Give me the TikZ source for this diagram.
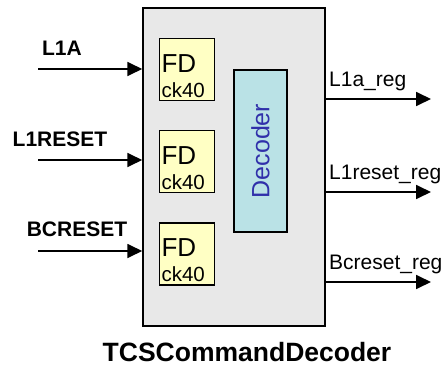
\documentclass[tikz,border=0pt]{standalone}
\usepackage{fontspec}
\setmainfont{Liberation Sans}
\usetikzlibrary{positioning}
\usetikzlibrary{arrows.meta}
\definecolor{blockgray}{RGB}{232,232,232}
\definecolor{flopyellow}{RGB}{255,255,196}
\definecolor{deccyan}{RGB}{186,226,230}
\definecolor{decblue}{RGB}{48,48,170}
\newcommand{\fdtext}{{\fontsize{26}{25}\selectfont\rule{0pt}{30pt}FD}\\ck40}
\tikzstyle{block} = [rectangle, draw=black, line width=1.5pt, fill=blockgray, minimum width=182pt, minimum height=318pt]
\tikzstyle{flop} = [rectangle, draw=black, line width=1.2pt, fill=flopyellow, minimum width=55pt, minimum height=62pt, text width=51pt, inner xsep=2pt, align=left, font=\fontsize{20.5}{25}\selectfont]
\tikzstyle{decoder} = [rectangle, draw=black, line width=1.5pt, fill=deccyan, rotate=90, minimum width=162pt, minimum height=53pt, text=decblue, font=\fontsize{25}{25}\selectfont]
\tikzstyle{inlabel} = [font=\fontsize{21}{21}\selectfont\bfseries, inner sep=0pt]
\tikzstyle{outlabel} = [font=\fontsize{21}{21}\selectfont, anchor=base west, inner sep=0pt]
\tikzstyle{arrow} = [line width=1.8pt, -{Triangle[length=15pt,width=14pt]}]

\begin{document}
\begin{tikzpicture}[x=1pt, y=-1pt]
        \useasboundingbox (0,0) rectangle (447,367);
        \node (block) [block] at (234,167) {};
        \node (fdA) [flop, anchor=north west] at (159,38) {\fdtext};
        \node (fdReset) [flop, below=29pt of fdA] {\fdtext};
        \node (fdBc) [flop, below=29pt of fdReset] {\fdtext};
        \node (decoder) [decoder] at (260.5,151) {Decoder};
        \node (title) [font=\fontsize{26.5}{26.5}\selectfont\bfseries, anchor=base] at (247,361) {TCSCommandDecoder};

        % inputs
        \coordinate (inA) at (38,69);
        \coordinate (inReset) at (38,160);
        \coordinate (inBc) at (38,251);
        \node (lblA) [inlabel] at (62,48.5) {L1A};
        \node (lblReset) [inlabel] at (60,139) {L1RESET};
        \node (lblBc) [inlabel] at (77,229) {BCRESET};
        \draw [arrow] (inA) -- (inA -| block.west);
        \draw [arrow] (inReset) -- (inReset -| block.west);
        \draw [arrow] (inBc) -- (inBc -| block.west);

        % outputs
        \coordinate (outA) at (431,99);
        \coordinate (outReset) at (431,192);
        \coordinate (outBc) at (431,282);
        \node (lblOutA) [outlabel] at (329,86) {L1a\_reg};
        \node (lblOutReset) [outlabel] at (329,179) {L1reset\_reg};
        \node (lblOutBc) [outlabel] at (329,269) {Bcreset\_reg};
        \draw [arrow] (outA -| block.east) -- (outA);
        \draw [arrow] (outReset -| block.east) -- (outReset);
        \draw [arrow] (outBc -| block.east) -- (outBc);
    \end{tikzpicture}
\end{document}
